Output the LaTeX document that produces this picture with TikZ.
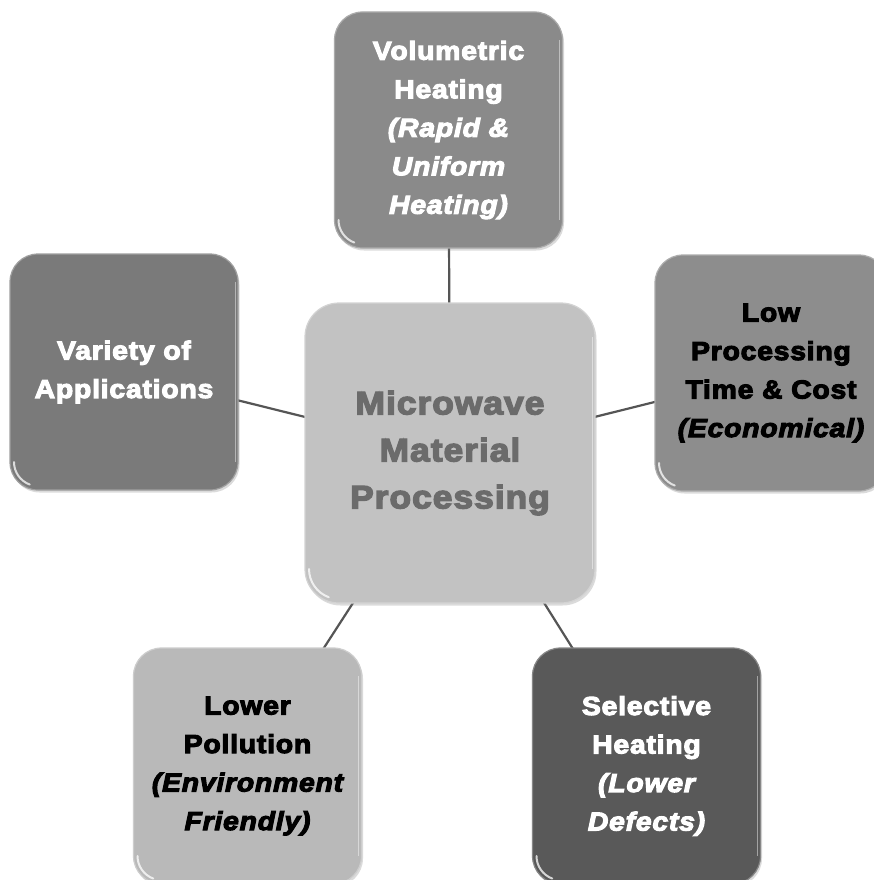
\documentclass[tikz,border=0pt]{standalone}
\usepackage{fontspec}
\usetikzlibrary{shadows,backgrounds}
\newfontfamily\heavyfont{Liberation Sans Bold}[FakeStretch=1.09,FakeBold=4.2,LetterSpace=3,ItalicFont={Liberation Sans Bold Italic}]
\definecolor{cTop}{HTML}{8A8A8A}
\definecolor{cMid}{HTML}{C2C2C2}
\definecolor{cLeft}{HTML}{7A7A7A}
\definecolor{cRight}{HTML}{8D8D8D}
\definecolor{cBL}{HTML}{B9B9B9}
\definecolor{cBR}{HTML}{595959}
\definecolor{cMidText}{HTML}{6B6B6B}
\definecolor{cLink}{HTML}{555555}
\pgfdeclarelayer{canvas}
\pgfsetlayers{canvas,background,main}
\tikzset{
  % soft reflections: right rim and lower-left corner
  gloss/.style={path picture={
    \begin{scope}[x=1pt,y=1pt]
      \draw[white, opacity=.75, line width=2pt, line cap=round]
        ([xshift=4pt,yshift=#1pt]path picture bounding box.south west)
        arc[start angle=180, end angle=250, radius=#1pt-4pt];
      \draw[white, opacity=.45, line width=1pt]
        ([xshift=-3pt,yshift=-#1pt]path picture bounding box.north east) --
        ([xshift=-3pt,yshift=#1pt]path picture bounding box.south east);
    \end{scope}}},
  tile/.style={rectangle, rounded corners=28pt, minimum width=228pt, minimum height=236pt,
    inner sep=0pt, align=center, fill=#1, draw=#1!72!white, line width=1.2pt,
    drop shadow={opacity=0.28, shadow xshift=1.5pt, shadow yshift=-2.5pt},
    gloss=28, font=\heavyfont\fontsize{26}{38.5}\selectfont},
  hub/.style={tile=cMid, rounded corners=34pt, minimum width=290pt, minimum height=300pt,
    gloss=34, text=cMidText, font=\heavyfont\fontsize{32.5}{47}\selectfont},
  link/.style={draw=cLink, line width=2.2pt}
}
\begin{document}
\begin{tikzpicture}[x=1pt, y=-1pt]
\begin{pgfonlayer}{canvas}
  \fill[white] (0,0) rectangle (873,880);
\end{pgfonlayer}
\useasboundingbox (0,0) rectangle (873,880);

\node[hub] (hub) at (450,453) {Microwave\\Material\\Processing};

\node[tile=cTop, text=white] (vol) at (448.5,130)
  {Volumetric\\Heating\\\itshape (Rapid \&\\\itshape Uniform\\\itshape Heating)};
\node[tile=cLeft, text=white] (var) at (124,372) {Variety of\\Applications};
\node[tile=cRight, text=black, minimum width=232pt] (low) at (771,373)
  {Low\\Processing\\Time \& Cost\\\itshape (Economical)};
\node[tile=cBL, text=black] (pol) at (247.5,766)
  {Lower\\Pollution\\\itshape (Environment\\\itshape Friendly)};
\node[tile=cBR, text=white] (sel) at (646.5,766)
  {Selective\\Heating\\\itshape (Lower\\\itshape Defects)};

\begin{scope}[on background layer]
  \draw[link] (hub.center) -- (vol.center);
  \draw[link] (hub.center) -- (var.center);
  \draw[link] (hub.center) -- (low.center);
  \draw[link] (hub.center) -- (pol.center);
  \draw[link] (hub.center) -- (sel.center);
\end{scope}
\end{tikzpicture}
\end{document}
